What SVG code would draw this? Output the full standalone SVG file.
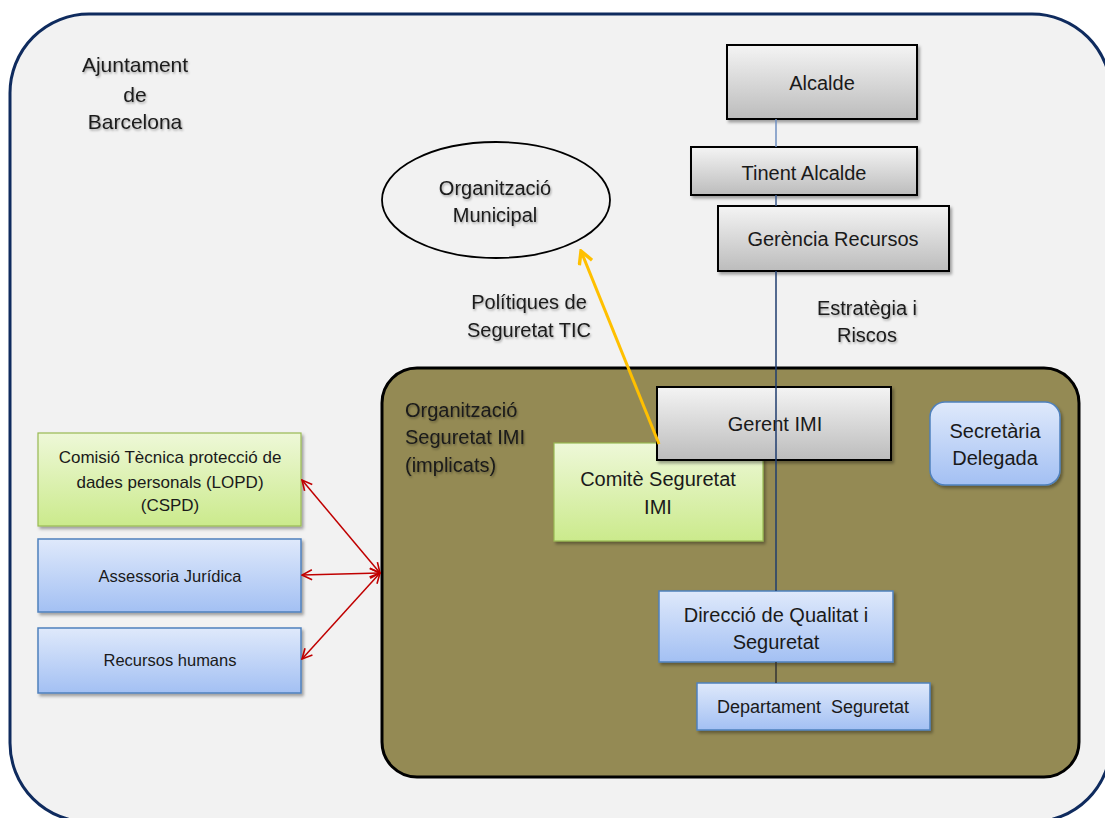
<svg xmlns="http://www.w3.org/2000/svg" width="1105" height="818" viewBox="0 0 1105 818">
<defs>
<linearGradient id="gGray" x1="0" y1="0" x2="0" y2="1"><stop offset="0" stop-color="#f4f4f4"/><stop offset="1" stop-color="#bcbcbc"/></linearGradient>
<linearGradient id="gGreen" x1="0" y1="0" x2="0" y2="1"><stop offset="0" stop-color="#eef8d8"/><stop offset="1" stop-color="#cbea8c"/></linearGradient>
<linearGradient id="gBlue" x1="0" y1="0" x2="0" y2="1"><stop offset="0" stop-color="#dfe9fb"/><stop offset="1" stop-color="#a3c0f3"/></linearGradient>
<filter id="sh" x="-10%" y="-10%" width="125%" height="130%"><feDropShadow dx="2" dy="2.5" stdDeviation="1.8" flood-color="#000" flood-opacity="0.35"/></filter>
<filter id="tsh" x="-10%" y="-30%" width="125%" height="170%"><feDropShadow dx="1" dy="1.5" stdDeviation="1" flood-color="#000" flood-opacity="0.35"/></filter>
<marker id="aRed" viewBox="0 0 12 12" refX="11" refY="6" markerWidth="12" markerHeight="12" markerUnits="userSpaceOnUse" orient="auto-start-reverse"><path d="M1,1 L11,6 L1,11" fill="none" stroke="#c00000" stroke-width="1.6"/></marker>
<marker id="aYel" viewBox="0 0 14 14" refX="12" refY="7" markerWidth="16" markerHeight="16" markerUnits="userSpaceOnUse" orient="auto"><path d="M1,1 L12,7 L1,13" fill="none" stroke="#ffc000" stroke-width="3"/></marker>
</defs>
<style>
text{font-family:"Liberation Sans",Arial,sans-serif;font-size:20px;fill:#1a1a1a;text-anchor:middle}
.gray{fill:url(#gGray);stroke:#000;stroke-width:2;filter:url(#sh)}
.green{fill:url(#gGreen);stroke:#98b954;stroke-width:1.2;filter:url(#sh)}
.blue{fill:url(#gBlue);stroke:#4f81bd;stroke-width:1.5;filter:url(#sh)}
.ts{filter:url(#tsh)}
.sm{font-size:17px}
.xs{font-size:16.5px}
.left{text-anchor:start}
.red{stroke:#c00000;stroke-width:1.5;fill:none;marker-start:url(#aRed);marker-end:url(#aRed)}
</style>
<rect width="1105" height="818" fill="#ffffff"/>
<g id="ajuntament">
<rect x="10" y="14" width="1101" height="808" rx="79" fill="#f2f2f2" stroke="#0f2b5e" stroke-width="3"/>
<g class="ts"><text x="135" y="72" style="font-size:21px">Ajuntament</text><text x="135" y="102" style="font-size:21px">de</text><text x="135" y="129" style="font-size:21px">Barcelona</text></g>
</g>
<g id="org-seguretat-imi">
<rect x="382" y="368" width="697" height="409" rx="35" fill="#948a54" stroke="#000" stroke-width="3"/>
<g class="ts"><text class="left" x="405" y="417" fill="#262618">Organització</text><text class="left" x="405" y="444">Seguretat IMI</text><text class="left" x="405" y="472">(implicats)</text></g>
</g>
<g id="org-municipal">
<ellipse cx="496" cy="200" rx="114" ry="58" fill="none" stroke="#000" stroke-width="1.8"/>
<g class="ts"><text x="495" y="195">Organització</text><text x="495" y="222">Municipal</text></g>
</g>
<g id="alcalde"><rect class="gray" x="727" y="45" width="190" height="74"/><text x="822" y="90">Alcalde</text></g>
<g id="tinent-alcalde"><rect class="gray" x="691" y="147" width="226" height="48"/><text x="804" y="180">Tinent Alcalde</text></g>
<g id="gerencia-recursos"><rect class="gray" x="718" y="206" width="231" height="65"/><text x="833" y="246">Gerència Recursos</text></g>
<g id="comite"><rect class="green" x="554" y="443" width="209" height="98"/><text x="658" y="486">Comitè Seguretat</text><text x="658" y="514">IMI</text></g>
<g id="gerent-imi"><rect class="gray" x="657" y="387" width="234" height="73"/><text x="775" y="431">Gerent IMI</text></g>
<g id="secretaria"><rect class="blue" x="930" y="402" width="130" height="83" rx="15"/><text x="995" y="438">Secretària</text><text x="995" y="465">Delegada</text></g>
<g id="direccio"><rect class="blue" x="659" y="591" width="234" height="71"/><text x="776" y="622">Direcció de Qualitat i</text><text x="776" y="649">Seguretat</text></g>
<g id="departament"><rect class="blue" x="697" y="683" width="233" height="47"/><text x="813" y="713" style="font-size:18px;white-space:pre" xml:space="preserve">Departament  Seguretat</text></g>
<g id="comisio-tecnica"><rect class="green" x="38" y="433" width="263" height="93"/><text class="sm" x="170" y="463">Comisió Tècnica protecció de</text><text class="sm" x="170" y="488">dades personals (LOPD)</text><text class="sm" x="170" y="511">(CSPD)</text></g>
<g id="assessoria"><rect class="blue" x="38" y="539" width="263" height="73"/><text class="xs" x="170" y="582">Assessoria Jurídica</text></g>
<g id="recursos-humans"><rect class="blue" x="38" y="628" width="263" height="65"/><text class="xs" x="170" y="666">Recursos humans</text></g>
<g id="labels">
<g class="ts"><text x="529" y="309">Polítiques de</text><text x="529" y="337">Seguretat TIC</text></g>
<g class="ts"><text x="867" y="315">Estratègia i</text><text x="867" y="342">Riscos</text></g>
</g>
<g id="connectors">
<line x1="776" y1="119" x2="776" y2="147" stroke="#6f8fc0" stroke-width="1.5"/>
<line x1="776" y1="195" x2="776" y2="206" stroke="#3b5a8c" stroke-width="1.5"/>
<line x1="776" y1="271" x2="776" y2="591" stroke="#1f3d6e" stroke-width="1.5"/>
<line x1="776" y1="662" x2="776" y2="683" stroke="#333" stroke-width="1.5"/>
<line x1="659" y1="444" x2="581" y2="251" stroke="#ffc000" stroke-width="3" marker-end="url(#aYel)"/>
<line class="red" x1="380" y1="573" x2="302" y2="480"/>
<line class="red" x1="380" y1="573" x2="302" y2="575"/>
<line class="red" x1="380" y1="573" x2="302" y2="659"/>
</g>
</svg>
